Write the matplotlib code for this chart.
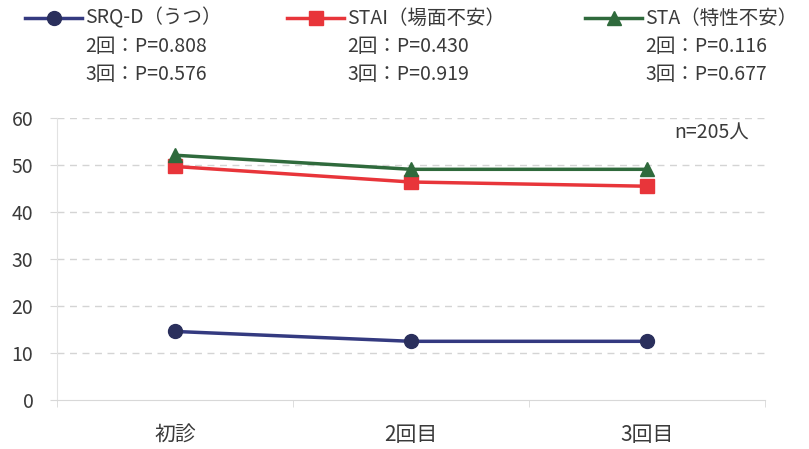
import matplotlib.pyplot as plt
from matplotlib.lines import Line2D

plt.rcParams['font.family'] = ['Noto Sans CJK JP', 'DejaVu Sans']

# data
visits = ["初診", "2回目", "3回目"]
srqd = [14.6, 12.5, 12.5]
stai = [49.7, 46.4, 45.5]
sta = [52.1, 49.1, 49.1]

names = ["SRQ-D（うつ）", "STAI（場面不安）", "STA（特性不安）"]
p2 = ["0.808", "0.430", "0.116"]
p3 = ["0.576", "0.919", "0.677"]
n_label = "n=205人"

colors = ["#343a80", "#e8353a", "#2f6a3c"]
mcolors = ["#2a2f5c", "#e8353a", "#2f6a3c"]
markers = ["o", "s", "^"]
series = [srqd, stai, sta]

fig = plt.figure(figsize=(8.09, 4.49), dpi=100)
ax = fig.add_axes([0.0705, 0.109, 0.875, 0.628])

x = list(range(len(visits)))
for vals, c, mc, m in zip(series, colors, mcolors, markers):
    ax.plot(x, vals, color=c, lw=2.5, marker=m, ms=10, mfc=mc, mec=mc,
            clip_on=False, zorder=3)

ax.set_xlim(-0.5, 2.5)
ax.set_ylim(0, 60)
ax.set_yticks(range(0, 61, 10))
ax.set_xticks(x)
ax.set_xticklabels(visits)
ax.set_xticks([-0.5, 0.5, 1.5, 2.5], minor=True)

for yv in range(10, 61, 10):
    ax.axhline(yv, color="#d4d4d4", lw=1, ls=(0, (5, 4)), zorder=1)

for s in ["top", "right"]:
    ax.spines[s].set_visible(False)
ax.spines["left"].set_color("#e2e2e2")
ax.spines["bottom"].set_color("#d8d8d8")
ax.tick_params(axis="y", length=5, color="#d8d8d8", pad=12,
               labelsize=14, labelcolor="#3a3a3a")
ax.tick_params(axis="x", which="major", length=0, pad=17,
               labelsize=15, labelcolor="#3a3a3a")
ax.tick_params(axis="x", which="minor", length=5, color="#d8d8d8")

ax.text(0.978, 56.7, n_label, transform=ax.get_yaxis_transform(),
        ha="right", va="center", fontsize=14, color="#3a3a3a")

# legend drawn by hand: marker line + name + P values
leg_x = [25, 287, 585]
for i in range(3):
    x0 = leg_x[i] / 809
    x1 = (leg_x[i] + 57) / 809
    y0 = 1 - 18 / 449
    fig.add_artist(Line2D([x0, x1], [y0, y0], color=colors[i], lw=2.5,
                          transform=fig.transFigure))
    fig.add_artist(Line2D([(x0 + x1) / 2], [y0], color=colors[i],
                          marker=markers[i], ms=10, mfc=mcolors[i],
                          mec=mcolors[i], transform=fig.transFigure))
    tx = x1 + 3 / 809
    fig.text(tx, y0, names[i], ha="left", va="center", fontsize=14,
             color="#3a3a3a")
    fig.text(tx, 1 - 47 / 449, "2回：P=" + p2[i], ha="left", va="center",
             fontsize=14, color="#3a3a3a")
    fig.text(tx, 1 - 75 / 449, "3回：P=" + p3[i], ha="left", va="center",
             fontsize=14, color="#3a3a3a")

fig.savefig("out.png", dpi=100)
